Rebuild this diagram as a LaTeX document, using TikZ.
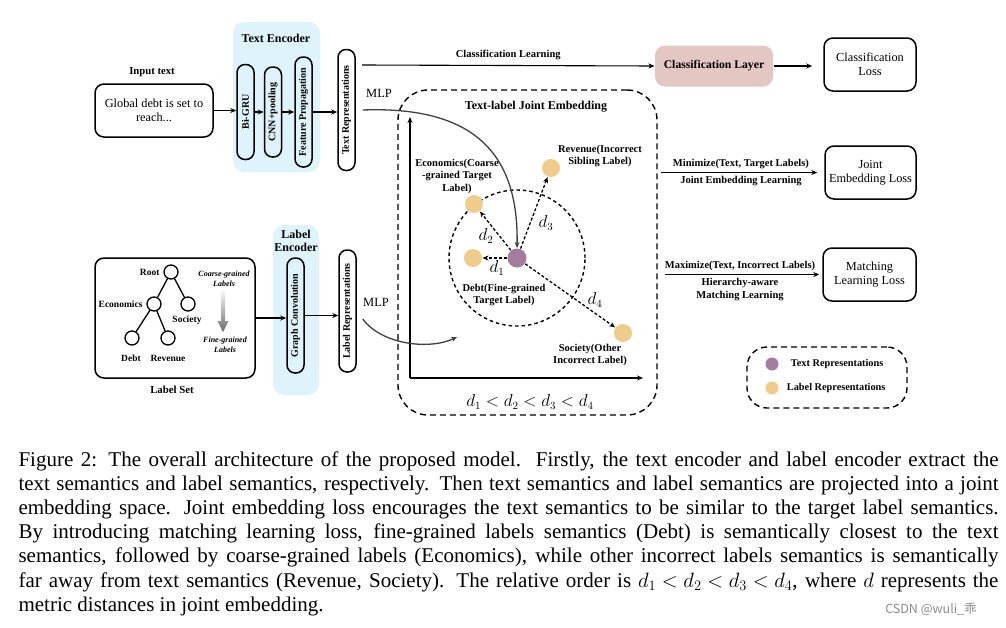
\documentclass[tikz,border=0pt]{standalone}
\usepackage{fontspec}
\setmainfont{Liberation Serif}
\newfontfamily\wmfont{Noto Sans CJK SC}
\usepackage{tikz}
\usetikzlibrary{arrows.meta, positioning}
\definecolor{encblue}{RGB}{222,243,251}
\definecolor{clsred}{RGB}{228,199,194}
\definecolor{txtpurple}{RGB}{164,124,158}
\definecolor{lblorange}{RGB}{240,204,140}
\newcommand\capline[1]{\makebox[980pt][s]{#1}}

\begin{document}
\begin{tikzpicture}[x=1pt, y=-1pt, >={Stealth[length=6pt, width=5pt]}, line width=1.1pt,
    box/.style={draw, line width=1.5pt, rounded corners=9pt, align=center,
      font=\fontsize{12.3}{14}\selectfont},
    pill/.style={draw, line width=1.5pt, rounded corners=8pt, minimum width=17pt,
      inner sep=1pt, font=\bfseries\fontsize{10}{11}\selectfont},
    encbg/.style={fill=encblue, rounded corners=11pt},
    lbl/.style={align=center, font=\bfseries\fontsize{10.5}{12.5}\selectfont},
    tlbl/.style={font=\bfseries\fontsize{9.5}{11}\selectfont},
    tnode/.style={circle, draw, line width=1.3pt, minimum size=14pt, inner sep=0pt},
    dot/.style={circle, minimum size=18pt, inner sep=0pt},
    dashbox/.style={draw, dash pattern=on 6pt off 4pt, line width=1.4pt, rounded corners=30pt},
    darr/.style={->, dash pattern=on 3pt off 2pt, line width=1.3pt},
    dlbl/.style={font=\fontsize{16}{16}\selectfont}]
  \fill[white] (0,0) rectangle (1006,627);
  \useasboundingbox (0,0) rectangle (1006,627);

  % text branch
  \node [lbl, font=\bfseries\fontsize{10.7}{12}\selectfont] (inlbl) at (152,72) {Input text};
  \node [box, minimum width=118pt, minimum height=53pt] (input) at (154,110.5)
    {Global debt is set to\\ reach...};
  \node [encbg, minimum width=87pt, minimum height=150pt] (txtenc) at (276.5,97) {};
  \node [lbl, font=\bfseries\fontsize{12}{13}\selectfont] (txtenclbl) at (276,38) {Text Encoder};
  \node [pill, minimum height=95pt] (bigru) at (245.5,112) {\rotatebox{90}{Bi-GRU}};
  \node [pill, minimum height=90pt] (cnn) at (273,112) {\rotatebox{90}{CNN+pooling}};
  \node [pill, minimum height=110pt] (featprop) at (303.5,112) {\rotatebox{90}{Feature Propagation}};
  \node [pill, minimum height=121pt] (txtrep) at (346.5,110) {\rotatebox{90}{Text Representations}};
  \draw [->] (input.east) -- (input.east -| bigru.west);
  \draw [->] (bigru.east) -- (bigru.east -| cnn.west);
  \draw [->] (cnn.east) -- (cnn.east -| featprop.west);
  \draw [->] (featprop.east) -- (featprop.east -| txtrep.west);

  % classification
  \node [fill=clsred, rounded corners=10pt, minimum width=118pt, minimum height=41pt,
    font=\bfseries\fontsize{11.7}{13}\selectfont] (clslayer) at (714,66) {Classification Layer};
  \node [box, minimum width=92pt, minimum height=53pt] (clsloss) at (870,64.5)
    {Classification\\ Loss};
  \coordinate (clsstart) at (362,65);
  \draw [->] (clsstart) -- (clslayer.west) node [lbl, midway, above=2pt] {Classification Learning};
  \draw [->, shorten >=11pt] (clslayer.east) -- (clslayer.east -| clsloss.west);

  % label branch
  \node [box, minimum width=160pt, minimum height=120pt] (labset) at (175,318) {};
  \node [lbl, font=\bfseries\fontsize{10.8}{12}\selectfont] (labsetlbl) at (172,390) {Label Set};
  \node [tnode] (root) at (171,272) {};
  \node [tnode] (econ) at (154,304) {};
  \node [tnode] (soc) at (188,304) {};
  \node [tnode] (debtn) at (132,338) {};
  \node [tnode] (revn) at (168,338) {};
  \draw [line width=1.3pt] (root) -- (econ) (root) -- (soc) (econ) -- (debtn) (econ) -- (revn);
  \node [tlbl, left=0pt of root] {Root};
  \node [tlbl, left=0pt of econ] {Economics};
  \node [tlbl] at (187,320) {Society};
  \node [tlbl] at (131,358) {Debt};
  \node [tlbl] at (168,358) {Revenue};
  \node [lbl, font=\bfseries\itshape\fontsize{8}{10.5}\selectfont] (coarse) at (224,279)
    {Coarse-grained\\ Labels};
  \node [lbl, font=\bfseries\itshape\fontsize{8}{10.5}\selectfont] (fine) at (225,345)
    {Fine-grained\\ Labels};
  \shade [top color=gray!8, bottom color=gray!85!black]
    (221,291) -- (225,291) -- (225,321) -- (228.5,321) -- (223,332) -- (217.5,321)
    -- (221,321) -- cycle;
  \node [encbg, minimum width=46pt, minimum height=170pt] (labenc) at (296,310) {};
  \node [lbl, font=\bfseries\fontsize{12}{13.5}\selectfont] (labenclbl) at (296,241)
    {Label\\ Encoder};
  \node [pill, minimum height=115pt] (gconv) at (295.5,315.5) {\rotatebox{90}{Graph Convolution}};
  \node [pill, minimum height=122pt] (labrep) at (347.5,311) {\rotatebox{90}{Label Representations}};
  \draw [->] (labset.east) -- (labset.east -| gconv.west);
  \draw [->] (gconv.east) -- (gconv.east -| labrep.west);

  % joint embedding space
  \node [dashbox, minimum width=259pt, minimum height=325pt] (joint) at (527.5,252.5) {};
  \node [lbl, font=\bfseries\fontsize{12}{13}\selectfont] (jointlbl) at (536,107)
    {Text-label Joint Embedding};
  \coordinate (origin) at (410,378);
  \coordinate (yend) at (410,117);
  \coordinate (xend) at (643,378);
  \draw [->, line width=1.5pt] (origin) -- (yend);
  \draw [->, line width=1.5pt] (origin) -- (xend);
  \node [dot, fill=txtpurple, minimum size=19pt] (txt) at (517,258) {};
  \draw [dash pattern=on 3.5pt off 3pt, line width=1.4pt] (txt) circle [radius=68pt];
  \node [dot, fill=lblorange] (debt) at (473,258) {};
  \node [dot, fill=lblorange] (ecodot) at (474,204) {};
  \node [dot, fill=lblorange] (revdot) at (551,168) {};
  \node [dot, fill=lblorange] (socdot) at (623,333) {};
  \draw [darr] (txt) -- (debt);
  \draw [darr] (txt) -- (ecodot);
  \draw [darr] (txt) -- (revdot);
  \draw [darr] (txt) -- (socdot);
  \node [dlbl] at (497,268) {$d_1$};
  \node [dlbl] at (486,236) {$d_2$};
  \node [dlbl] at (546,223) {$d_3$};
  \node [dlbl] at (595,300) {$d_4$};
  \node [lbl] at (457,176) {Economics(Coarse\\ -grained Target\\ Label)};
  \node [lbl] at (600,156) {Revenue(Incorrect\\ Sibling Label)};
  \node [lbl] at (504,295) {Debt(Fine-grained\\ Target Label)};
  \node [lbl] at (590,355) {Society(Other\\ Incorrect Label)};
  \node [dlbl] (order) at (530,402) {$d_1<d_2<d_3<d_4$};

  % projections
  \node [font=\fontsize{12.5}{13}\selectfont] (mlpa) at (379,93) {MLP};
  \node [font=\fontsize{12.5}{13}\selectfont] (mlpb) at (376,302) {MLP};
  \draw [->, line width=1.3pt, black!75] ([xshift=7pt]txtrep.east)
    .. controls (470,106) and (519,150) .. (txt.north);
  \coordinate (lblin) at (457,337);
  \draw [->, line width=1.3pt, black!75] ([shift={(6,8)}]labrep.east)
    .. controls (382,345) and (430,350) .. (lblin);

  % losses
  \node [box, minimum width=91pt, minimum height=53pt] (jeloss) at (870.5,172.5)
    {Joint\\ Embedding Loss};
  \node [box, minimum width=93pt, minimum height=53pt] (mlloss) at (869.5,274.5)
    {Matching\\ Learning Loss};
  \draw [->, shorten <=3pt, shorten >=7pt] (joint.east |- jeloss.west) -- (jeloss.west)
    node [lbl, midway, above=0pt] {Minimize(Text, Target Labels)}
    node [lbl, midway, below=0pt] {Joint Embedding Learning};
  \draw [->, shorten <=7pt, shorten >=3pt] (joint.east |- mlloss.west) -- (mlloss.west)
    node [lbl, midway, above=0pt] {Maximize(Text, Incorrect Labels)}
    node [lbl, midway, below=0pt] {Hierarchy-aware\\ Matching Learning};

  % legend
  \node [dashbox, rounded corners=20pt, minimum width=160pt, minimum height=61pt] (legend)
    at (827,377.5) {};
  \node [dot, fill=txtpurple, minimum size=13pt] (legtxt) at (772,364) {};
  \node [dot, fill=lblorange, minimum size=13pt] (leglbl) at (772,388) {};
  \node [lbl, right=8pt of legtxt, font=\bfseries\fontsize{10.3}{11}\selectfont] {Text Representations};
  \node [lbl, right=4pt of leglbl, font=\bfseries\fontsize{10.3}{11}\selectfont] {Label Representations};

  % caption
  \begin{scope}[every node/.style={anchor=base west, inner sep=0pt,
      font=\fontsize{21}{24}\selectfont}]
    \node (cap1) at (18,466) {\capline{Figure 2: The overall architecture of the proposed model.\ \ Firstly, the text encoder and label encoder extract the}};
    \node (cap2) at (18,490.2) {\capline{text semantics and label semantics, respectively. Then text semantics and label semantics are projected into a joint}};
    \node (cap3) at (18,514.4) {\capline{embedding space. Joint embedding loss encourages the text semantics to be similar to the target label semantics.}};
    \node (cap4) at (18,538.6) {\capline{By introducing matching learning loss, fine-grained labels semantics (Debt) is semantically closest to the text}};
    \node (cap5) at (18,562.8) {\capline{semantics, followed by coarse-grained labels (Economics), while other incorrect labels semantics is semantically}};
    \node (cap6) at (18,587) {\capline{far away from text semantics (Revenue, Society). The relative order is \mbox{$d_1<d_2<d_3<d_4$}, where \mbox{$d$} represents the}};
    \node (cap7) at (18,611.2) {metric distances in joint embedding.};
  \end{scope}
  \node [font=\wmfont\fontsize{12.5}{14}\selectfont, text=black!45] (wmark) at (931,609) {CSDN @wuli\_乖};
\end{tikzpicture}
\end{document}
